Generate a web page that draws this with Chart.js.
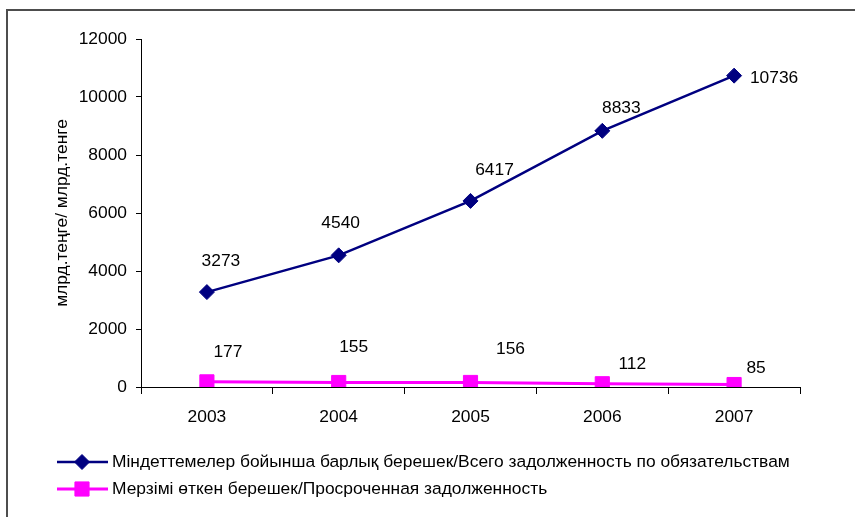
<!DOCTYPE html>
<html>
<head>
<meta charset="utf-8">
<script src="https://cdn.jsdelivr.net/npm/chart.js@4"></script>
<style>
  body { margin: 0; background: #fff; }
  canvas { display: block; }
</style>
</head>
<body>
<canvas id="debt-chart" width="855" height="517"></canvas>
<script>
const years = ['2003', '2004', '2005', '2006', '2007'];
const totalDebt = [3273, 4540, 6417, 8833, 10736];
const overdueDebt = [177, 155, 156, 112, 85];
const yTicks = [0, 2000, 4000, 6000, 8000, 10000, 12000];

const seriesNames = [
  'Міндеттемелер бойынша барлық берешек/Всего задолженность по обязательствам',
  'Мерзімі өткен берешек/Просроченная задолженность'
];
const axisTitle = 'млрд.теңге/ млрд.тенге';

// value labels are placed by hand, offset from their point in px
const totalLabelOffsets = [[14, -31], [2, -32], [24, -31], [19, -23], [40, 3]];
const overdueLabelOffsets = [[21, -30], [15, -35], [40, -33], [30, -20], [22, -16]];

const FONT = '"Liberation Sans", Arial, sans-serif';
const FONT_SIZE = 17.4;
const NAVY = '#000080';
const MAGENTA = '#ff00ff';

function markerPath(ctx, style, x, y, r) {
  ctx.beginPath();
  if (style === 'rectRot') {
    ctx.moveTo(x - r, y);
    ctx.lineTo(x, y - r);
    ctx.lineTo(x + r, y);
    ctx.lineTo(x, y + r);
    ctx.closePath();
  } else {
    const h = r * Math.SQRT1_2;
    ctx.rect(x - h, y - h, 2 * h, 2 * h);
  }
}

// thin frame along the top and left edge
const framePlugin = {
  id: 'frame',
  beforeDraw(chart) {
    const ctx = chart.ctx;
    ctx.save();
    ctx.strokeStyle = '#4d4d4d';
    ctx.lineWidth = 2;
    ctx.strokeRect(7, 10, chart.width + 20, chart.height + 20);
    ctx.restore();
  }
};

const valueLabels = {
  id: 'valueLabels',
  afterDatasetsDraw(chart) {
    const ctx = chart.ctx;
    ctx.save();
    ctx.font = FONT_SIZE + 'px ' + FONT;
    ctx.fillStyle = '#000';
    ctx.textAlign = 'center';
    ctx.textBaseline = 'middle';
    chart.data.datasets.forEach((ds, i) => {
      chart.getDatasetMeta(i).data.forEach((pt, j) => {
        const [dx, dy] = ds.labelOffsets[j];
        ctx.fillText(String(ds.data[j]), pt.x + dx, pt.y + dy);
      });
    });
    ctx.restore();
  }
};

// legend: one row per series, line with marker then the name
const legendRows = {
  id: 'legendRows',
  afterDraw(chart) {
    const ctx = chart.ctx;
    const rowsY = [462, 489];
    ctx.save();
    ctx.font = FONT_SIZE + 'px ' + FONT;
    ctx.textBaseline = 'middle';
    chart.data.datasets.forEach((ds, i) => {
      const y = rowsY[i];
      ctx.strokeStyle = ds.borderColor;
      ctx.lineWidth = ds.borderWidth;
      ctx.beginPath();
      ctx.moveTo(57, y);
      ctx.lineTo(108, y);
      ctx.stroke();
      ctx.fillStyle = ds.pointBackgroundColor;
      ctx.lineWidth = 1;
      markerPath(ctx, ds.pointStyle, 82, y, ds.pointRadius);
      ctx.fill();
      ctx.stroke();
      ctx.fillStyle = '#000';
      ctx.fillText(ds.label, 112, y);
    });
    ctx.restore();
  }
};

new Chart(document.getElementById('debt-chart'), {
  type: 'line',
  data: {
    labels: years,
    datasets: [
      {
        label: seriesNames[0],
        data: totalDebt,
        labelOffsets: totalLabelOffsets,
        borderColor: NAVY,
        borderWidth: 2.5,
        pointStyle: 'rectRot',
        pointRadius: 7.5,
        pointBorderWidth: 1,
        pointBackgroundColor: NAVY,
        pointBorderColor: NAVY
      },
      {
        label: seriesNames[1],
        data: overdueDebt,
        labelOffsets: overdueLabelOffsets,
        borderColor: MAGENTA,
        borderWidth: 3,
        pointStyle: 'rect',
        pointRadius: 10,
        pointBorderWidth: 1,
        pointBackgroundColor: MAGENTA,
        pointBorderColor: MAGENTA
      }
    ]
  },
  options: {
    responsive: false,
    animation: false,
    layout: { padding: { top: 39, right: 55, left: 0, bottom: 0 } },
    scales: {
      x: {
        offset: true,
        afterFit(scale) { scale.height = 130; },
        grid: {
          offset: true,
          drawOnChartArea: false,
          tickLength: 7,
          color: '#000'
        },
        border: { color: '#000', width: 1 },
        ticks: { color: '#000', padding: 13, font: { family: FONT, size: FONT_SIZE } }
      },
      y: {
        min: 0,
        max: 12000,
        afterFit(scale) { scale.width = 141; },
        afterBuildTicks(scale) { scale.ticks = yTicks.map(v => ({ value: v })); },
        grid: {
          drawOnChartArea: false,
          tickLength: 5,
          color: '#000'
        },
        border: { color: '#000', width: 1 },
        ticks: {
          color: '#000',
          padding: 9,
          font: { family: FONT, size: FONT_SIZE },
          callback: v => String(v)
        },
        title: {
          display: true,
          text: axisTitle,
          color: '#000',
          padding: { top: 52, bottom: 0 },
          font: { family: FONT, size: FONT_SIZE }
        }
      }
    },
    plugins: {
      legend: { display: false },
      tooltip: { enabled: false }
    }
  },
  plugins: [framePlugin, valueLabels, legendRows]
});
</script>
</body>
</html>
